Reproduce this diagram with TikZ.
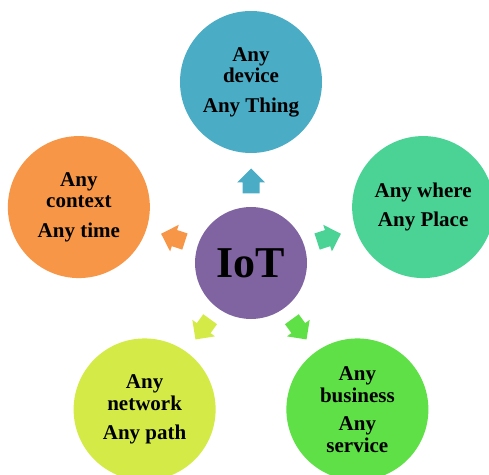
\documentclass[tikz,border=0pt]{standalone}
\usepackage{fontspec}
\setmainfont{Liberation Serif}
\usetikzlibrary{calc,positioning}
\definecolor{devblue}{HTML}{4BACC6}
\definecolor{iotpurple}{HTML}{8064A2}
\definecolor{placegreen}{HTML}{4AD395}
\definecolor{timeorange}{HTML}{F79646}
\definecolor{pathyellow}{HTML}{D4EB47}
\definecolor{servgreen}{HTML}{5EE046}
\tikzstyle{bubble} = [circle, minimum size=142pt, inner sep=0pt, align=center, font=\fontsize{21}{21.5}\selectfont\bfseries]
\tikzstyle{hub}    = [circle, minimum size=112pt, inner sep=0pt, fill=iotpurple, font=\fontsize{44}{44}\selectfont\bfseries]

\begin{document}
\begin{tikzpicture}[x=1pt,y=1pt]
	\useasboundingbox (0,0) rectangle (489,474);

	\node[hub] (iot) at (251,211) {IoT};

	% outer bubbles with their block arrows
	\foreach \ang/\col/\name/\txt in {
		90/devblue/dev/{Any\\device\\[8pt]Any Thing},
		18/placegreen/place/{Any where\\[8pt]Any Place},
		-54/servgreen/serv/{Any\\business\\[7pt]Any\\service},
		-126/pathyellow/path/{Any\\network\\[8pt]Any path},
		162/timeorange/time/{Any\\context\\[8pt]Any time}}
	{
		\node[bubble, fill=\col] (\name) at ($(iot)+(\ang:181)$) {\txt};
		\fill[\col, shift={(iot.center)}, rotate=\ang] (69.5,-8.5) -- (80.5,-8.5) -- (80.5,-14) -- (94.5,0) -- (80.5,14) -- (80.5,8.5) -- (69.5,8.5) -- cycle;
	}
\end{tikzpicture}
\end{document}
